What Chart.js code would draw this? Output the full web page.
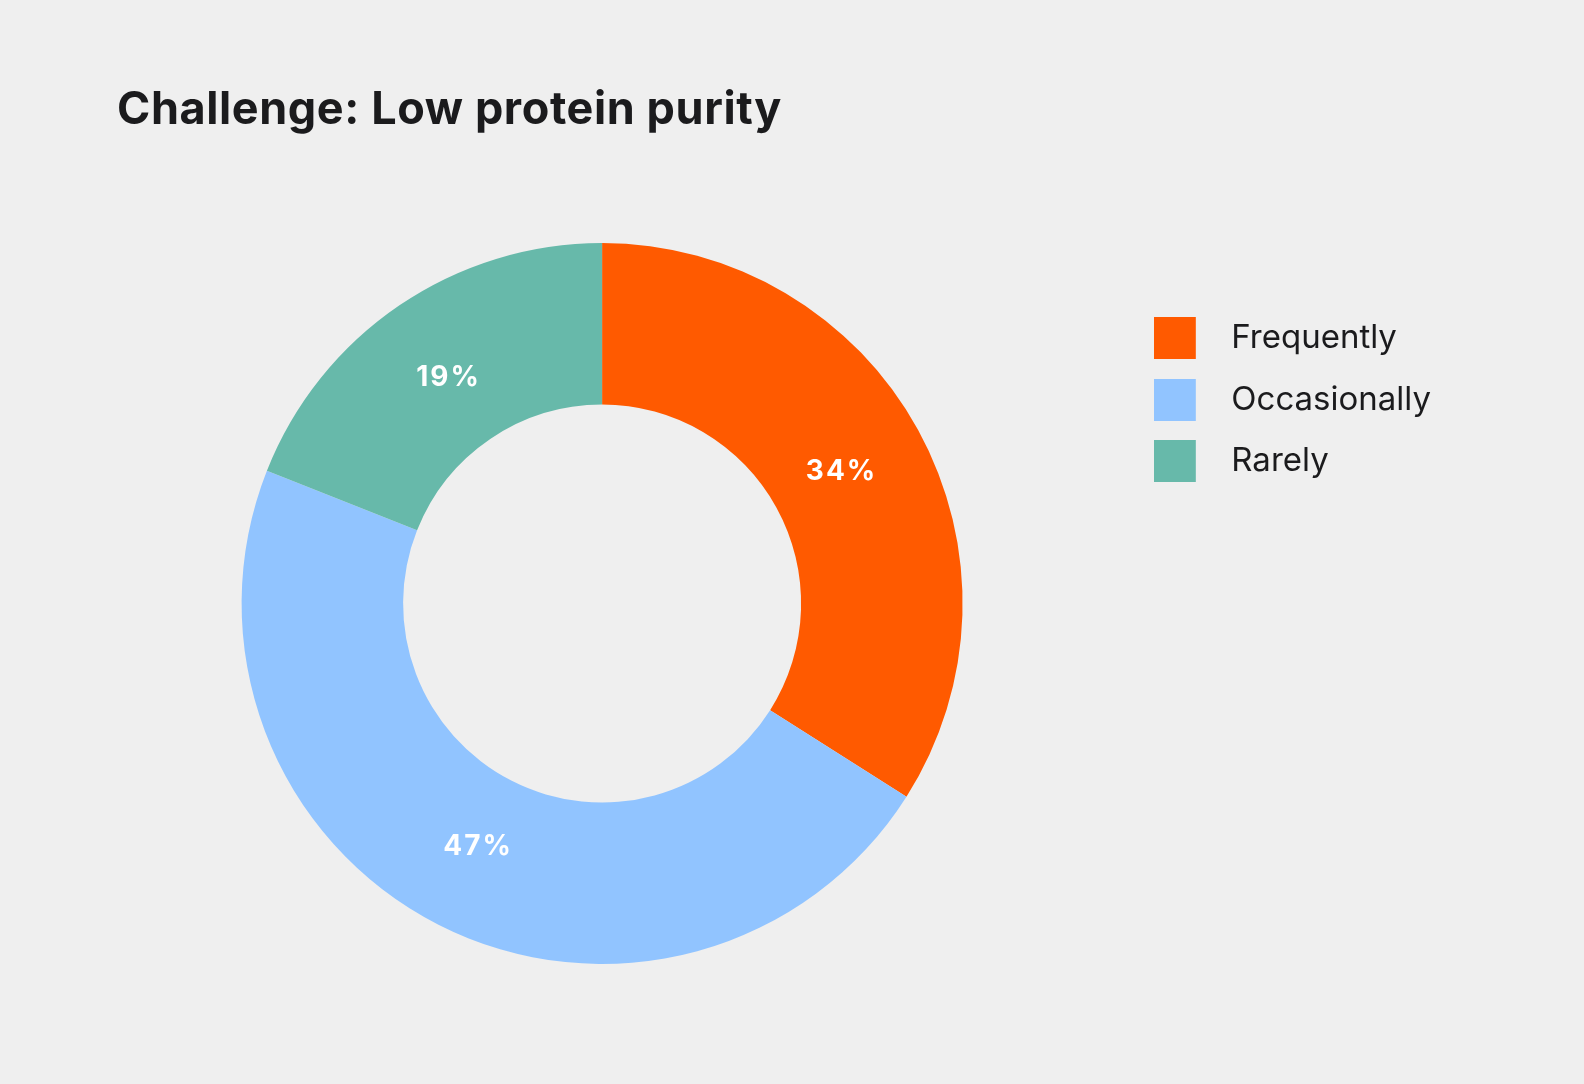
<!DOCTYPE html>
<html lang="en">
<head>
<meta charset="utf-8">
<title>Challenge: Low protein purity</title>
<script src="https://cdn.jsdelivr.net/npm/chart.js@4.4.1/dist/chart.umd.min.js"></script>
<style>
  html, body {
    margin: 0;
    padding: 0;
    background: #efefef;
  }
  .page {
    position: relative;
    width: 1584px;
    height: 1084px;
    overflow: hidden;
  }
  .chart-title {
    position: absolute;
    left: 117px;
    top: 85px;
    margin: 0;
    font-family: Inter, "Noto Sans", Arial, sans-serif;
    font-weight: 700;
    font-size: 45px;
    letter-spacing: 0.6px;
    line-height: 1;
    color: #1b1b1d;
    white-space: nowrap;
  }
  .chart-frame {
    position: absolute;
    left: 0;
    top: 0;
    width: 1584px;
    height: 1084px;
  }
</style>
</head>
<body>
<div class="page">
  <div class="chart-frame"><canvas id="purityChart"></canvas></div>
  <h1 class="chart-title">Challenge: Low protein purity</h1>
</div>
<script>
const categories = ["Frequently", "Occasionally", "Rarely"];
const shares = [34, 47, 19];
const sliceColors = ["#ff5a00", "#91c4ff", "#67b9aa"];

Chart.defaults.font.family = 'Inter, "Noto Sans", Arial, sans-serif';
Chart.defaults.color = "#1b1b1d";

// legend swatch: square on the left, empty room on the right for the gap to the label
function swatch(color) {
  const c = document.createElement("canvas");
  c.width = 61;
  c.height = 42;
  const ctx = c.getContext("2d");
  ctx.fillStyle = color;
  ctx.fillRect(0, 0, 42, 42);
  return c;
}

const percentLabels = {
  id: "percentLabels",
  afterDatasetsDraw(chart) {
    const { ctx } = chart;
    const meta = chart.getDatasetMeta(0);
    ctx.save();
    ctx.font = '700 28px Inter, "Noto Sans", Arial, sans-serif';
    ctx.letterSpacing = "2px";
    ctx.fillStyle = "#ffffff";
    ctx.textAlign = "center";
    ctx.textBaseline = "middle";
    meta.data.forEach((arc, i) => {
      const { x, y, startAngle, endAngle, innerRadius, outerRadius } = arc.getProps(
        ["x", "y", "startAngle", "endAngle", "innerRadius", "outerRadius"]
      );
      const angle = (startAngle + endAngle) / 2;
      const r = innerRadius + (outerRadius - innerRadius) * 0.46;
      ctx.fillText(`${shares[i]}%`, x + Math.cos(angle) * r, y + Math.sin(angle) * r);
    });
    ctx.restore();
  }
};

new Chart(document.getElementById("purityChart"), {
  type: "doughnut",
  data: {
    labels: categories,
    datasets: [
      {
        data: shares,
        backgroundColor: sliceColors,
        borderWidth: 0,
        hoverOffset: 0
      }
    ]
  },
  options: {
    responsive: true,
    maintainAspectRatio: false,
    animation: false,
    cutout: "55.2%",
    layout: {
      padding: { top: 243, bottom: 120, left: 79, right: 143 }
    },
    plugins: {
      title: { display: false },
      tooltip: { enabled: false },
      legend: {
        position: "right",
        align: "start",
        title: {
          display: true,
          text: "",
          font: { size: 10, lineHeight: 1 },
          padding: { top: 39.9, bottom: 0 }
        },
        labels: {
          usePointStyle: true,
          pointStyleWidth: 61,
          padding: 28.6,
          color: "#1b1b1d",
          font: { size: 33 },
          generateLabels(chart) {
            const items = Chart.overrides.doughnut.plugins.legend.labels.generateLabels(chart);
            return items.map((item, i) => ({ ...item, pointStyle: swatch(sliceColors[i]) }));
          }
        }
      }
    }
  },
  plugins: [percentLabels]
});
</script>
</body>
</html>
